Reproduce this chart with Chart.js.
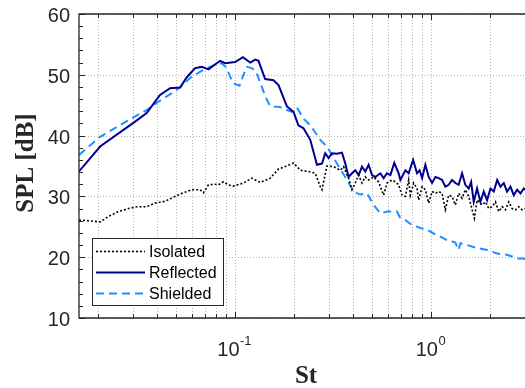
<!DOCTYPE html>
<html>
<head>
<meta charset="utf-8">
<script src="https://cdn.jsdelivr.net/npm/chart.js@4.4.1/dist/chart.umd.min.js"></script>
<style>
  html, body { margin: 0; padding: 0; background: #fff; }
  #wrap { width: 525px; height: 388px; position: relative; }
</style>
</head>
<body>
<div id="wrap"><canvas id="splChart" width="525" height="388"></canvas></div>
<script>
// Strouhal number / SPL spectra for the three configurations
const stIsolated = [0.016, 0.0178, 0.0205, 0.0226, 0.0254, 0.0286, 0.0315, 0.0354, 0.0391, 0.044,
  0.0494, 0.0535, 0.0601, 0.0663, 0.0689, 0.0731, 0.0791, 0.0822, 0.0872, 0.0924,
  0.098, 0.1102, 0.1217, 0.1341, 0.1509, 0.1663, 0.1799, 0.1984, 0.2146, 0.2366,
  0.2559, 0.2715, 0.277, 0.2937, 0.3173, 0.3433, 0.3568, 0.3785, 0.3939, 0.4095,
  0.4258, 0.443, 0.4605, 0.4787, 0.508, 0.538, 0.571, 0.594, 0.63, 0.655,
  0.681, 0.709, 0.737, 0.766, 0.781, 0.812, 0.845, 0.861, 0.897, 0.932,
  0.969, 1.008, 1.048, 1.089, 1.134, 1.178, 1.225, 1.275, 1.325, 1.377,
  1.434, 1.489, 1.549, 1.613, 1.657, 1.71, 1.814, 1.886, 1.96, 2.04,
  2.121, 2.205, 2.294, 2.386, 2.48, 2.58, 2.683, 2.789, 2.902, 3.0];
const splIsolated = [26.1, 26.0, 25.8, 26.7, 27.5, 28.0, 28.3, 28.3, 28.9, 29.2,
  30.0, 30.5, 31.1, 31.1, 30.6, 31.9, 32.0, 31.9, 32.4, 31.9,
  31.7, 32.2, 33.0, 32.3, 33.0, 34.5, 34.9, 35.5, 34.3, 34.1,
  33.8, 31.6, 31.1, 35.0, 34.9, 34.3, 34.9, 33.0, 31.1, 32.2,
  33.5, 32.2, 33.2, 32.7, 33.2, 32.4, 30.2, 32.2, 32.7, 32.4,
  31.9, 30.2, 30.0, 32.7, 30.2, 32.2, 31.3, 29.4, 31.6, 31.1,
  28.9, 30.8, 30.5, 30.8, 30.5, 27.8, 30.2, 30.0, 28.6, 30.5,
  29.7, 31.1, 30.0, 27.8, 26.4, 29.4, 28.6, 29.1, 28.0, 28.3,
  29.1, 27.5, 28.3, 27.8, 29.1, 28.0, 27.8, 28.3, 27.8, 28.0];

const stReflected = [0.016, 0.0205, 0.0309, 0.0354, 0.0414, 0.0466, 0.0524, 0.0567, 0.0625, 0.0676,
  0.0731, 0.0838, 0.0889, 0.1, 0.1095, 0.1193, 0.1265, 0.1315, 0.1422, 0.1568,
  0.1663, 0.1836, 0.1984, 0.21, 0.223, 0.2414, 0.2611, 0.277, 0.2877, 0.2992,
  0.3113, 0.3303, 0.3503, 0.3641, 0.3785, 0.3939, 0.4095, 0.4258, 0.443, 0.4605,
  0.4787, 0.4983, 0.518, 0.5495, 0.571, 0.594, 0.618, 0.647, 0.681, 0.695,
  0.737, 0.766, 0.807, 0.845, 0.871, 0.897, 0.932, 0.969, 1.008, 1.048,
  1.089, 1.134, 1.178, 1.225, 1.275, 1.325, 1.377, 1.434, 1.489, 1.549,
  1.594, 1.644, 1.71, 1.778, 1.849, 1.923, 2.0, 2.08, 2.164, 2.249,
  2.339, 2.432, 2.529, 2.63, 2.735, 2.844, 2.958, 3.0];
const splReflected = [34.1, 38.2, 42.3, 43.7, 46.7, 47.8, 47.9, 49.6, 51.1, 51.3,
  50.9, 52.3, 51.9, 52.1, 52.9, 52.0, 52.5, 52.3, 49.3, 49.1,
  48.3, 44.8, 43.9, 41.7, 41.2, 39.3, 35.2, 35.4, 37.1, 36.3,
  37.1, 37.0, 37.2, 35.4, 33.2, 33.8, 34.3, 33.5, 34.9, 34.1,
  35.2, 33.5, 33.2, 33.8, 33.0, 33.8, 33.5, 35.5, 33.8, 32.7,
  34.3, 33.8, 36.0, 33.8, 34.3, 33.0, 35.2, 33.2, 32.2, 33.2,
  33.0, 32.7, 31.6, 31.9, 32.7, 32.2, 31.9, 33.8, 31.9, 31.3,
  32.4, 29.1, 31.3, 29.1, 30.8, 29.4, 31.3, 30.8, 32.7, 31.6,
  32.2, 30.8, 31.6, 30.2, 31.1, 30.5, 31.3, 31.1];

const stShielded = [0.016, 0.0205, 0.0303, 0.0354, 0.0399, 0.0504, 0.0601, 0.0689, 0.0807, 0.0855,
  0.09, 0.0943, 0.098, 0.1052, 0.1102, 0.1147, 0.1217, 0.128, 0.1341, 0.1422,
  0.1509, 0.1697, 0.1836, 0.1947, 0.2065, 0.223, 0.2414, 0.2715, 0.2937, 0.3303,
  0.3715, 0.4015, 0.434, 0.47, 0.508, 0.5495, 0.594, 0.668, 0.695, 0.737,
  0.797, 0.879, 0.951, 1.027, 1.111, 1.202, 1.275, 1.325, 1.377, 1.406,
  1.521, 1.71, 1.923, 2.164, 2.432, 2.735, 2.958, 3.0];
const splShielded = [36.8, 39.8, 43.0, 44.2, 45.4, 47.5, 49.7, 50.8, 51.8, 51.9,
  51.2, 49.7, 48.6, 48.2, 50.0, 51.3, 51.1, 50.5, 48.7, 46.5,
  44.8, 44.7, 44.2, 43.9, 44.6, 42.8, 41.7, 39.3, 38.2, 35.4,
  32.7, 30.8, 30.3, 30.5, 28.6, 27.2, 27.5, 27.5, 26.4, 26.1,
  25.3, 24.8, 24.5, 23.9, 23.4, 22.8, 22.6, 22.4, 21.2, 22.3,
  22.0, 21.5, 21.2, 20.6, 20.4, 19.8, 19.8, 19.5];

const seriesNames = ['Isolated', 'Reflected', 'Shielded'];

// axis ranges and ticks
const xMin = 0.016, xMax = 3;
const yMin = 10, yMax = 60;
const xGridValues = [0.02, 0.03, 0.04, 0.05, 0.06, 0.07, 0.08, 0.09, 0.1,
  0.2, 0.3, 0.4, 0.5, 0.6, 0.7, 0.8, 0.9, 1, 2, 3];
const xMajorValues = [0.1, 1];
const xMajorExponents = ['-1', '0'];
const yMajorValues = [10, 20, 30, 40, 50, 60];
const yMinorStep = 2;

const axisColor = '#262626';
const sansFont = '"Liberation Sans", Arial, sans-serif';
const serifFont = '"Liberation Serif", "Times New Roman", serif';

function toPoints(xs, ys) {
  return xs.map((x, i) => ({ x: x, y: ys[i] }));
}

const lineStyles = [
  { color: '#000000', width: 1.6, dash: [2, 2] },
  { color: '#00008f', width: 2, dash: [] },
  { color: '#1e90ff', width: 2, dash: [8, 5] }
];

// grid lines under the curves
const gridPlugin = {
  id: 'matlabGrid',
  beforeDatasetsDraw(chart) {
    const { ctx, chartArea: a, scales: { x, y } } = chart;
    ctx.save();
    ctx.strokeStyle = '#b4b4b4';
    ctx.lineWidth = 1;
    ctx.setLineDash([1, 2]);
    xGridValues.forEach(v => {
      const px = Math.round(x.getPixelForValue(v)) + 0.5;
      ctx.beginPath();
      ctx.moveTo(px, a.top);
      ctx.lineTo(px, a.bottom);
      ctx.stroke();
    });
    yMajorValues.forEach(v => {
      const py = Math.round(y.getPixelForValue(v)) + 0.5;
      ctx.beginPath();
      ctx.moveTo(a.left, py);
      ctx.lineTo(a.right, py);
      ctx.stroke();
    });
    ctx.restore();
  }
};

// axes box, ticks, labels and legend
const axesPlugin = {
  id: 'matlabAxes',
  afterDraw(chart) {
    const { ctx, chartArea: a, scales: { x, y } } = chart;
    ctx.save();
    ctx.strokeStyle = axisColor;
    ctx.lineWidth = 1.3;
    ctx.setLineDash([]);
    ctx.beginPath();
    ctx.moveTo(a.right + 1, a.top);
    ctx.lineTo(a.left, a.top);
    ctx.lineTo(a.left, a.bottom);
    ctx.lineTo(a.right + 1, a.bottom);
    ctx.stroke();

    // x ticks (top and bottom, inward)
    ctx.lineWidth = 1;
    xGridValues.forEach(v => {
      const px = Math.round(x.getPixelForValue(v)) + 0.5;
      const len = xMajorValues.includes(v) ? 6 : 4;
      ctx.beginPath();
      ctx.moveTo(px, a.bottom);
      ctx.lineTo(px, a.bottom - len);
      ctx.moveTo(px, a.top);
      ctx.lineTo(px, a.top + len);
      ctx.stroke();
    });
    // y ticks
    for (let v = yMin; v <= yMax; v += yMinorStep) {
      const py = Math.round(y.getPixelForValue(v)) + 0.5;
      const len = yMajorValues.includes(v) ? 6 : 4;
      ctx.beginPath();
      ctx.moveTo(a.left, py);
      ctx.lineTo(a.left + len, py);
      ctx.stroke();
    }

    // y tick labels
    ctx.fillStyle = axisColor;
    ctx.font = '20px ' + sansFont;
    ctx.textAlign = 'right';
    ctx.textBaseline = 'alphabetic';
    yMajorValues.forEach(v => {
      const py = y.getPixelForValue(v);
      ctx.fillText(String(v), a.left - 9, py + 8);
    });

    // x tick labels as powers of ten
    xMajorValues.forEach((v, i) => {
      const px = x.getPixelForValue(v);
      ctx.font = '20px ' + sansFont;
      const baseW = ctx.measureText('10').width;
      ctx.font = '13px ' + sansFont;
      const expW = ctx.measureText(xMajorExponents[i]).width;
      const left = px - (baseW + expW) / 2 - 1;
      ctx.textAlign = 'left';
      ctx.font = '20px ' + sansFont;
      ctx.fillText('10', left, a.bottom + 38);
      ctx.font = '13px ' + sansFont;
      ctx.fillText(xMajorExponents[i], left + baseW + 0.5, a.bottom + 27);
    });

    // axis titles
    ctx.font = 'bold 25px ' + serifFont;
    ctx.textAlign = 'center';
    ctx.fillText('St', (a.left + a.right) / 2 + 4, a.bottom + 65);
    ctx.save();
    ctx.translate(33, (a.top + a.bottom) / 2 - 3);
    ctx.rotate(-Math.PI / 2);
    ctx.textBaseline = 'alphabetic';
    ctx.fillText('SPL [dB]', 0, 0);
    ctx.restore();

    // legend box
    const lx = 92, ly = 238, lw = 131, lh = 67;
    ctx.fillStyle = '#ffffff';
    ctx.fillRect(lx, ly, lw, lh);
    ctx.strokeStyle = axisColor;
    ctx.lineWidth = 1;
    ctx.strokeRect(lx + 0.5, ly + 0.5, lw, lh);
    ctx.font = '16px ' + sansFont;
    ctx.textAlign = 'left';
    ctx.textBaseline = 'middle';
    seriesNames.forEach((name, i) => {
      const rowY = ly + 13.5 + i * 21;
      const s = lineStyles[i];
      ctx.strokeStyle = s.color;
      ctx.lineWidth = s.width;
      ctx.setLineDash(s.dash);
      ctx.beginPath();
      ctx.moveTo(lx + 4, rowY);
      ctx.lineTo(lx + 53, rowY);
      ctx.stroke();
      ctx.setLineDash([]);
      ctx.fillStyle = '#000000';
      ctx.fillText(name, lx + 57, rowY + 1);
    });
    ctx.restore();
  }
};

const seriesData = [
  toPoints(stIsolated, splIsolated),
  toPoints(stReflected, splReflected),
  toPoints(stShielded, splShielded)
];

const datasets = seriesNames.map((name, i) => ({
  label: name,
  data: seriesData[i],
  borderColor: lineStyles[i].color,
  borderWidth: lineStyles[i].width,
  borderDash: lineStyles[i].dash,
  pointRadius: 0,
  tension: 0,
  fill: false
}));

new Chart(document.getElementById('splChart').getContext('2d'), {
  type: 'line',
  data: { datasets: datasets },
  options: {
    responsive: false,
    animation: false,
    parsing: true,
    layout: { padding: { left: 79, top: 14, right: 0, bottom: 70 } },
    plugins: { legend: { display: false }, tooltip: { enabled: false } },
    scales: {
      x: { type: 'logarithmic', min: xMin, max: xMax, display: false },
      y: { type: 'linear', min: yMin, max: yMax, display: false }
    }
  },
  plugins: [gridPlugin, axesPlugin]
});
</script>
</body>
</html>
